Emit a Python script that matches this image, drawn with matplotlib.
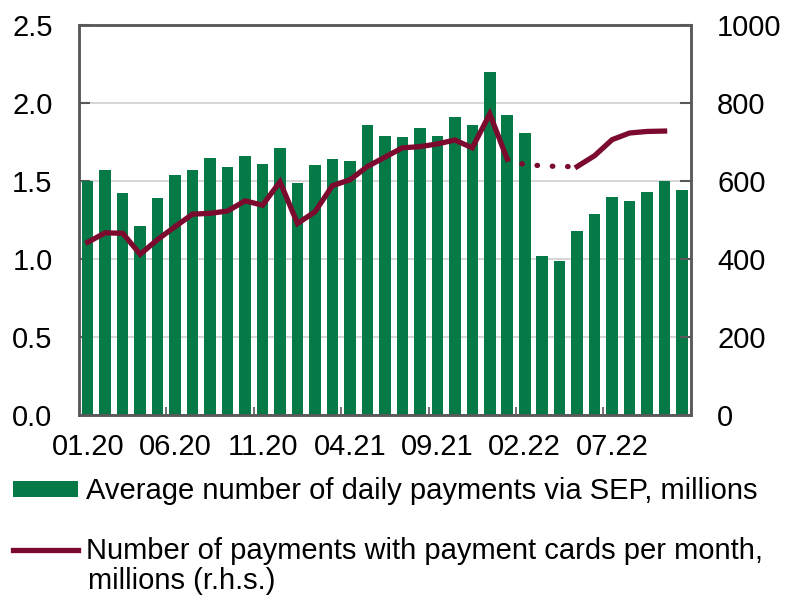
import numpy as np
import matplotlib.pyplot as plt
from matplotlib.patches import Patch
from matplotlib.lines import Line2D

plt.rcParams['font.family'] = ['Liberation Sans', 'DejaVu Sans']

# monthly data 01.20 - 11.22
months = ['01.20', '02.20', '03.20', '04.20', '05.20', '06.20', '07.20', '08.20', '09.20', '10.20', '11.20', '12.20',
          '01.21', '02.21', '03.21', '04.21', '05.21', '06.21', '07.21', '08.21', '09.21', '10.21', '11.21', '12.21',
          '01.22', '02.22', '03.22', '04.22', '05.22', '06.22', '07.22', '08.22', '09.22', '10.22', '11.22']

sep_daily = [1.50, 1.57, 1.42, 1.21, 1.39, 1.54, 1.57, 1.65, 1.59, 1.66, 1.61, 1.71,
             1.49, 1.60, 1.64, 1.63, 1.86, 1.79, 1.78, 1.84, 1.79, 1.91, 1.86, 2.20,
             1.92, 1.81, 1.02, 0.99, 1.18, 1.29, 1.40, 1.37, 1.43, 1.50, 1.44]

# card payments (r.h.s.), no data for 02.22-04.22 and 11.22
nan = np.nan
card_payments = [443, 467, 466, 412, 450, 483, 515, 517, 523, 549, 538, 598,
                 491, 521, 588, 603, 637, 661, 685, 688, 695, 705, 685, 772,
                 656, nan, nan, nan, 637, 665, 706, 723, 727, 728, nan]
# dotted bridge over the gap
card_gap = [nan] * 24 + [656, 642, 639, 637, 637] + [nan] * 6

green = '#057a46'
maroon = '#7b0a2e'
grey = '#595959'
fs = 21

x = np.arange(len(months))

fig = plt.figure(figsize=(7.85, 5.99), dpi=100)
ax = fig.add_axes([0.1006, 0.3072, 0.7794, 0.6511])
ax2 = ax.twinx()

ax.bar(x, sep_daily, width=0.66, color=green, zorder=2)
ax.set_ylim(0, 2.5)
ax.set_yticks(np.arange(0, 2.51, 0.5))
ax.set_yticklabels([f'{v:.1f}' for v in np.arange(0, 2.51, 0.5)])
ax.grid(axis='y', color='#d0d0d0', linewidth=1.2, zorder=0)
ax.set_axisbelow(True)
ax.set_xlim(-0.5, len(months) - 0.5)

ax2.plot(x, card_payments, color=maroon, linewidth=3.8, solid_joinstyle='miter', zorder=3)
ax2.plot(x, card_gap, color=maroon, linewidth=3.8, linestyle=(0, (0.1, 2.8)),
         dash_capstyle='round', zorder=3)
ax2.set_ylim(0, 1000)
ax2.set_yticks(np.arange(0, 1001, 200))

# x ticks: labels every 5 months, tick marks between categories
ax.set_xticks(x[::5])
ax.set_xticklabels(months[::5])
ax.set_xticks(np.arange(4.5, len(months), 5), minor=True)
ax.tick_params(axis='x', which='major', length=0, pad=13, labelsize=fs)
ax.tick_params(axis='x', which='minor', direction='in', length=6, width=1.2, color=grey)
ax.tick_params(axis='y', direction='in', length=8, width=1.5, color=grey, labelsize=fs, pad=19)
ax2.tick_params(axis='y', direction='in', length=8, width=1.5, color=grey, labelsize=fs, pad=19)

for a in (ax, ax2):
    for s in a.spines.values():
        s.set_color(grey)
        s.set_linewidth(1.8)

# legend
h1 = Patch(facecolor=green, edgecolor='none')
h2 = Line2D([], [], color=maroon, linewidth=3.8)
leg = fig.legend([h1, h2], ['Average number of daily payments via SEP, millions',
                            'Number of payments with payment cards per month,'],
                 loc='upper left', bbox_to_anchor=(0.017, 0.203), frameon=False,
                 fontsize=fs, handlelength=2.2, handleheight=0.43, handletextpad=0.28,
                 labelspacing=1.1, borderaxespad=0, borderpad=0)
fig.text(0.112, 0.030, 'millions (r.h.s.)', fontsize=fs, va='center', ha='left')

fig.savefig('out.png', dpi=100)
